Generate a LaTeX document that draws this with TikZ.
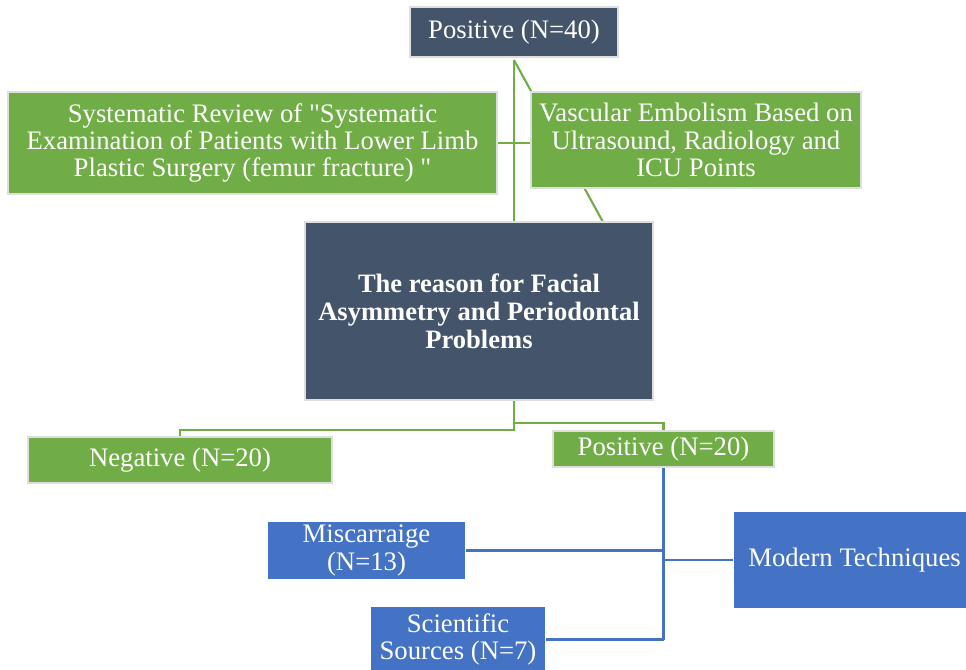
\documentclass[tikz,border=0pt]{standalone}
\usepackage{fontspec}
\setmainfont{Liberation Serif}[Ligatures=TeXOff]
\usetikzlibrary{positioning,calc,backgrounds}
\definecolor{slate}{HTML}{44546A}
\definecolor{leaf}{HTML}{70AD47}
\definecolor{sky}{HTML}{4472C4}
\definecolor{rim}{HTML}{DEDEDE}

\begin{document}
\begin{tikzpicture}[
    font=\fontsize{15.2}{15.6}\selectfont,
    % --- boxes -------------------------------------------------------
    box/.style={rectangle,draw=rim,line width=1.2pt,text=white,
                align=center,inner sep=2pt},
    darkbox/.style={box,fill=slate},
    greenbox/.style={box,fill=leaf},
    bluebox/.style={box,fill=sky,draw=none},
    % --- connectors --------------------------------------------------
    glink/.style={draw=leaf,line width=1.2pt},
    blink/.style={draw=sky,line width=1.2pt},
  ]
\useasboundingbox (0,0) rectangle (19.32,-13.4);

% =====================================================================
%  Nodes
% =====================================================================
\node[darkbox,minimum width=4.16cm,minimum height=1.0cm] (pos40) at (10.28,-0.64)
     {Positive (N=40)};
\node[greenbox,minimum width=9.78cm,minimum height=2.04cm] (review) at (5.05,-2.86)
     {Systematic Review of "Systematic\\
      Examination of Patients with Lower Limb\\
      Plastic Surgery (femur fracture) "};
\node[greenbox,minimum width=6.6cm,minimum height=1.92cm] (vascular) at (13.92,-2.80)
     {Vascular Embolism Based on\\
      Ultrasound, Radiology and\\
      ICU Points};
\node[darkbox,minimum width=6.96cm,minimum height=3.56cm,
      font=\fontsize{15.1}{16}\selectfont\bfseries] (reason) at (9.58,-6.22)
     {The reason for Facial\\
      Asymmetry and Periodontal\\
      Problems};
\node[greenbox,minimum width=6.08cm,minimum height=0.92cm] (neg20) at (3.60,-9.20)
     {Negative (N=20)};
\node[greenbox,minimum width=4.42cm,minimum height=0.72cm] (pos20) at (13.27,-8.98)
     {Positive (N=20)};
\node[bluebox,minimum width=3.94cm,minimum height=1.06cm] (miscarr) at (7.33,-11.01)
     {Miscarraige\\(N=13)};
\node[bluebox,minimum width=3.48cm,minimum height=1.3cm] (sources) at (9.16,-12.79)
     {Scientific\\Sources (N=7)};
\node[bluebox,minimum width=4.82cm,minimum height=1.92cm] (modern) at (17.09,-11.2)
     {Modern Techniques};

% =====================================================================
%  Connectors
% =====================================================================
\coordinate (topjoin) at ($(pos40.south)+(0,-0.04)$);
\coordinate (diagend) at (12.06,-4.44);
\begin{scope}[on background layer]
  \draw[glink] (topjoin) -- (topjoin |- reason.north);
  \draw[glink] (topjoin) -- (diagend);
\end{scope}
\draw[glink] (review.east) -- (review.east -| vascular.west);

% ---- lower split -----------------------------------------------------
\coordinate (botjoin) at (reason.south -| topjoin);
\draw[glink] (botjoin) -- ++(0,-0.58) -| (neg20.north);
\draw[glink] ($(botjoin)+(0,-0.44)$) -| (pos20.north);

% ---- blue branch -----------------------------------------------------
\draw[blink] (pos20.south) -- (pos20.south |- sources.east);
\draw[blink] (miscarr.east) -- (miscarr.east -| pos20.south);
\draw[blink] (sources.east) -- (sources.east -| pos20.south);
\draw[blink] (modern.west) -- (modern.west -| pos20.south);

\end{tikzpicture}
\end{document}
